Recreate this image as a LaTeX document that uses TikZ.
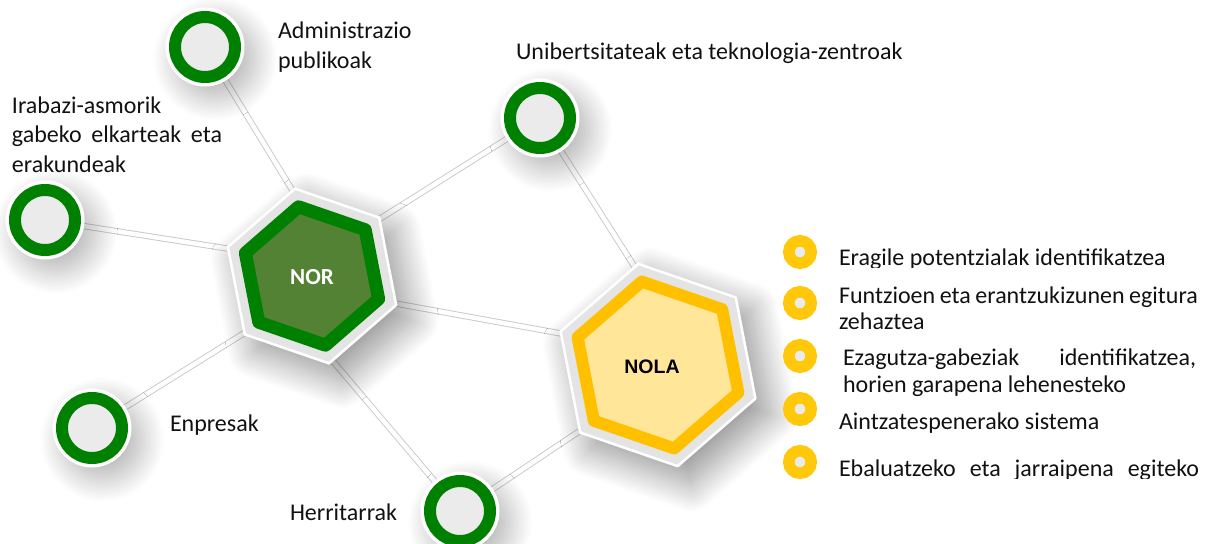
\documentclass[tikz,border=0pt]{standalone}
\usepackage{fontspec}
\setmainfont{Carlito}
\newfontfamily\nolafont{Liberation Sans}
\usetikzlibrary{shadows.blur,backgrounds}
\definecolor{ringgreen}{HTML}{008000}
\definecolor{norfill}{HTML}{548235}
\definecolor{nolaring}{HTML}{FFC000}
\definecolor{nolafill}{HTML}{FFE699}
\definecolor{bulletyellow}{HTML}{FFC80A}
\definecolor{ringin}{HTML}{EBEBEB}
\definecolor{framegray}{HTML}{E4E4E4}
\definecolor{linegray}{HTML}{C8C8C8}
\definecolor{textblack}{HTML}{111111}
\begin{document}
\begin{tikzpicture}[x=1pt,y=-1pt,
  ring/.style={circle, minimum size=60pt, inner sep=0pt, outer sep=0pt, fill=ringin, draw=ringgreen, line width=12pt,
     blur shadow={shadow xshift=8pt, shadow yshift=-9pt, shadow blur radius=18pt, shadow blur steps=30, shadow opacity=30, shadow scale=1.3},
     preaction={draw=white, line width=19pt}},
  bulletring/.style={circle, minimum size=22.5pt, inner sep=0pt, fill=ringin, draw=bulletyellow, line width=11.5pt},
  conn/.style={draw=linegray, line width=0.9pt, double=white, double distance=4.5pt},
  hexframe/.style={fill=framegray, draw=white, line width=2.5pt, line join=round,
     blur shadow={shadow xshift=12pt, shadow yshift=-14pt, shadow blur radius=26pt, shadow blur steps=30, shadow opacity=40, shadow scale=1.04}},
  norband/.style={fill=norfill, draw=ringgreen, line width=13pt, line join=round},
  nolaband/.style={fill=nolafill, draw=nolaring, line width=12pt, line join=round},
  lbl/.style={anchor=base west, inner sep=0pt, outer sep=0pt, text=textblack, align=left},
  lblfont/.style={font=\fontsize{24}{29}\selectfont},
  ]
\useasboundingbox (0,0) rectangle (1209,543);

% ---- NOR hexagon
\begin{scope}[shift={(312,276)}]
  \path[hexframe] (-101:89) -- (-41:89) -- (19:89) -- (79:89) -- (139:89) -- (199:89) -- cycle;
  \path[norband] (-101:70.5) -- (-41:70.5) -- (19:70.5) -- (79:70.5) -- (139:70.5) -- (199:70.5) -- cycle;
  \coordinate (nor-n) at (-101:80);
  \coordinate (nor-ne) at (-41:80);
  \coordinate (nor-e) at (19:80);
  \coordinate (nor-s) at (79:80);
  \coordinate (nor-sw) at (139:80);
  \coordinate (nor-w) at (199:80);
\end{scope}
\node[font=\bfseries\fontsize{23}{27}\selectfont, text=white, inner sep=0pt] (nor) at (312,277) {NOR};

% ---- NOLA hexagon
\begin{scope}[shift={(658,365)}]
  \path[hexframe] (-101:103) -- (-41:103) -- (19:103) -- (79:103) -- (139:103) -- (199:103) -- cycle;
  \path[nolaband] (-101:85) -- (-41:85) -- (19:85) -- (79:85) -- (139:85) -- (199:85) -- cycle;
  \coordinate (nola-n) at (-101:90);
  \coordinate (nola-w) at (199:90);
  \coordinate (nola-sw) at (139:90);
\end{scope}
\node[font=\nolafont\bfseries\fontsize{19.5}{23}\selectfont, text=black, inner sep=0pt] (nola) at (652,367) {NOLA};

% ---- rings
\node[ring] (adm) at (205,47) {};
\node[ring] (uni) at (540,118) {};
\node[ring] (ira) at (45,220) {};
\node[ring] (enp) at (92,428) {};
\node[ring] (her) at (460,511) {};

% ---- connectors
\begin{scope}[on background layer]
  \draw[conn] (adm) -- (nor-n);
  \draw[conn] (ira) -- (nor-w);
  \draw[conn] (uni) -- (nor-ne);
  \draw[conn] (uni) -- (nola-n);
  \draw[conn] (nor-e) -- (nola-w);
  \draw[conn] (enp) -- (nor-sw);
  \draw[conn] (her) -- (nor-s);
  \draw[conn] (her) -- (nola-sw);
\end{scope}

% ---- ring labels (base anchor = last line)
\node[lbl, lblfont] (tadm) at (278,68) {Administrazio\\publikoak};
\node[lbl, lblfont] (tuni) at (516,59.5) {Unibertsitateak eta teknologia-zentroak};
\node[lbl, font=\fontsize{24}{29.5}\selectfont] (tira) at (12,172) {Irabazi-asmorik\\\makebox[210pt][s]{gabeko elkarteak eta}\\erakundeak};
\node[lbl, lblfont] (tenp) at (170,431) {Enpresak};
\node[lbl, lblfont] (ther) at (290,520.5) {Herritarrak};

% ---- NOLA bullets
\node[bulletring] (b1) at (800,252) {};
\node[bulletring] (b2) at (800,303) {};
\node[bulletring] (b3) at (800,356) {};
\node[bulletring] (b4) at (800,409) {};
\node[bulletring] (b5) at (800,462) {};

\begin{scope}
  \clip (825,225) rectangle (1209,267.5);
  \node[lbl, lblfont] (t1) at (839,265) {Eragile potentzialak identifikatzea};
\end{scope}
\node[lbl, font=\fontsize{24}{26}\selectfont] (t2) at (839,329) {\makebox[359pt][s]{Funtzioen eta erantzukizunen egitura}\\zehaztea};
\node[lbl, font=\fontsize{24}{27}\selectfont] (t3) at (843,392) {\makebox[353pt][s]{Ezagutza-gabeziak identifikatzea,}\\horien garapena lehenesteko};
\node[lbl, lblfont] (t4) at (839,429) {Aintzatespenerako sistema};
\begin{scope}
  \clip (825,440) rectangle (1209,478);
  \node[lbl, lblfont] (t5) at (839,476) {\makebox[360pt][s]{Ebaluatzeko eta jarraipena egiteko}};
\end{scope}
\end{tikzpicture}
\end{document}
